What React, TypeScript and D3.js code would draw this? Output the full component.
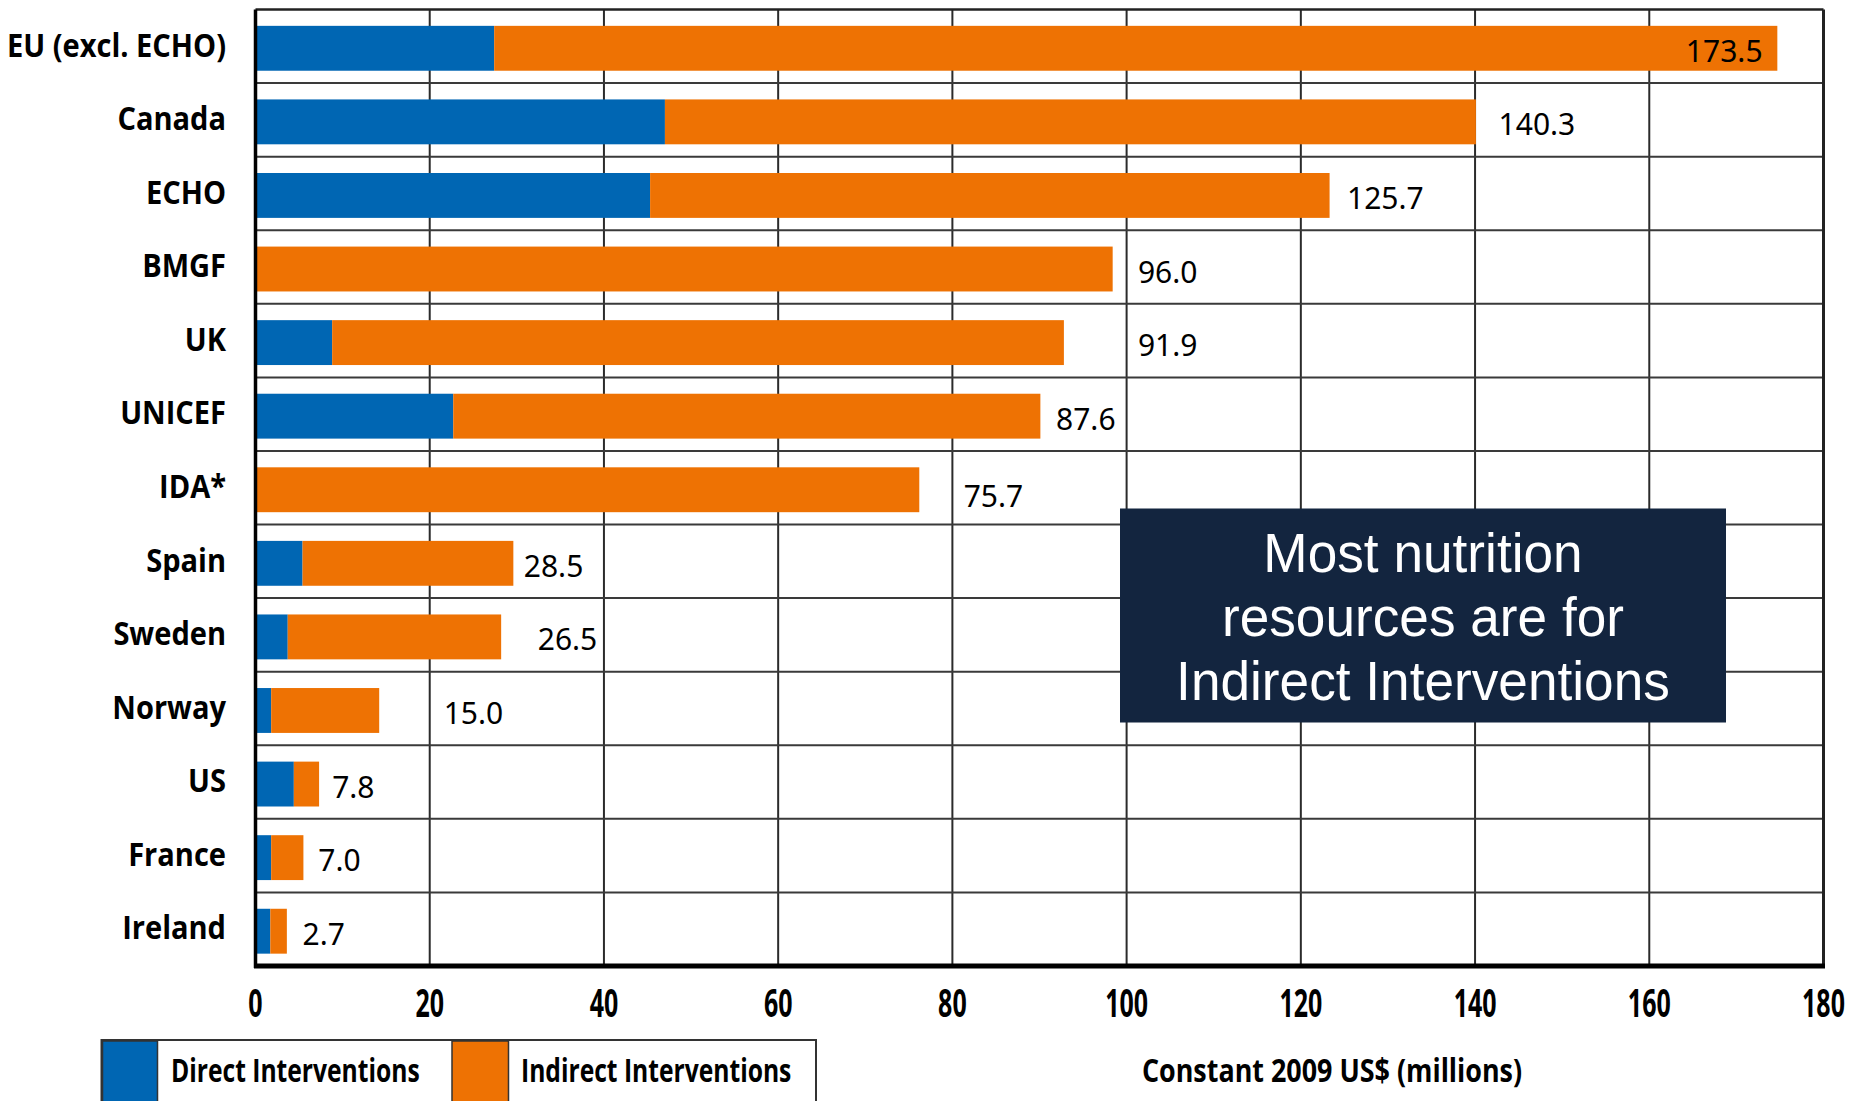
import React from "react";
import * as d3 from "d3";

const categories = [
  "EU (excl. ECHO)", "Canada", "ECHO", "BMGF", "UK", "UNICEF", "IDA*",
  "Spain", "Sweden", "Norway", "US", "France", "Ireland",
];
const direct = [27.4, 47.0, 45.3, 0, 8.8, 22.7, 0, 5.4, 3.7, 1.8, 4.4, 1.8, 1.7];
const indirect = [147.3, 93.1, 78.0, 98.4, 84.0, 67.4, 76.2, 24.2, 24.5, 12.4, 2.9, 3.7, 1.9];
const totalLabels = ["173.5", "140.3", "125.7", "96.0", "91.9", "87.6", "75.7", "28.5", "26.5", "15.0", "7.8", "7.0", "2.7"];
// where each total label starts, in axis units (as placed in the original)
const labelAt = [164.2, 142.7, 125.3, 101.3, 101.3, 91.9, 81.3, 30.8, 32.4, 21.6, 8.8, 7.2, 5.4];
const xTicks = [0, 20, 40, 60, 80, 100, 120, 140, 160, 180];
const seriesNames = ["Direct Interventions", "Indirect Interventions"];
const axisTitle = "Constant 2009 US$ (millions)";
const calloutLines = ["Most nutrition", "resources are for", "Indirect Interventions"];

const W = 1854;
const H = 1101;
const BLUE = "#0066b3";
const ORANGE = "#ee7203";
const NAVY = "#13253f";
const HEAVY = "'Open Sans', 'Noto Sans', sans-serif";
const BOOK = "'Noto Sans', 'Open Sans', sans-serif";
const ARIAL = "'Liberation Sans', Arial, sans-serif";

type TProps = {
  x: number;
  y: number;
  sx: number;
  anchor?: "start" | "middle" | "end";
  size: number;
  family: string;
  weight?: string;
  fill?: string;
  children: React.ReactNode;
};

function SText({ x, y, sx, anchor = "start", size, family, weight = "normal", fill = "#000", children }: TProps) {
  return (
    <text
      transform={`translate(${x},${y}) scale(${sx},1)`}
      x={0}
      y={0}
      dominantBaseline="central"
      textAnchor={anchor}
      fontFamily={family}
      fontWeight={weight}
      fontSize={size}
      fill={fill}
    >
      {children}
    </text>
  );
}

export default function App() {
  const left = 255.5;
  const right = 1823.5;
  const top = 9.5;
  const bottom = 966;

  const x = d3.scaleLinear().domain([0, 180]).range([left, right]);
  const y = d3
    .scaleBand<string>()
    .domain(categories)
    .range([top, bottom])
    .paddingInner(0.39)
    .paddingOuter(0.195);
  const step = y.step();
  const rowTop = (i: number) => top + i * step;

  return (
    <svg
      width={W}
      height={H}
      viewBox={`0 0 ${W} ${H}`}
      style={{ position: "absolute", left: 0, top: 0, background: "#fff" }}
    >
      <rect x={0} y={0} width={W} height={H} fill="#fff" />

      {/* vertical grid */}
      {xTicks.slice(1, -1).map((t) => (
        <line key={"v" + t} x1={x(t)} x2={x(t)} y1={top} y2={bottom} stroke="#2b2b2b" strokeWidth={2} />
      ))}
      {/* horizontal row separators */}
      {categories.slice(1).map((_, i) => (
        <line key={"h" + i} x1={left} x2={right} y1={rowTop(i + 1)} y2={rowTop(i + 1)} stroke="#3a3a3a" strokeWidth={2} />
      ))}

      {/* bars */}
      {categories.map((c, i) => {
        const yy = (y(c) as number) + 2;
        const bh = y.bandwidth();
        return (
          <g key={c}>
            {direct[i] > 0 && (
              <rect x={x(0)} y={yy} width={x(direct[i]) - x(0)} height={bh} fill={BLUE} />
            )}
            <rect
              x={x(direct[i])}
              y={yy}
              width={x(direct[i] + indirect[i]) - x(direct[i])}
              height={bh}
              fill={ORANGE}
            />
          </g>
        );
      })}

      {/* frame */}
      <line x1={left} x2={right} y1={top} y2={top} stroke="#222" strokeWidth={2.5} />
      <line x1={right} x2={right} y1={top} y2={bottom} stroke="#222" strokeWidth={3} />
      <line x1={left} x2={left} y1={top} y2={bottom + 2} stroke="#000" strokeWidth={3.5} />
      <line x1={left - 1.5} x2={right + 1.5} y1={bottom} y2={bottom} stroke="#000" strokeWidth={5} />

      {/* total labels */}
      {categories.map((c, i) => (
        <text
          key={"l" + c}
          x={x(labelAt[i])}
          y={rowTop(i) + step / 2 + (c === "IDA*" ? 8 : 4)}
          dominantBaseline="central"
          fontFamily={BOOK}
          fontSize={30}
          fill="#000"
        >
          {totalLabels[i]}
        </text>
      ))}

      {/* category labels */}
      {categories.map((c, i) => (
        <SText key={"c" + c} x={226} y={rowTop(i) + step / 2 - 2.5} sx={0.88} anchor="end" size={33} family={HEAVY} weight="bold">
          {c}
        </SText>
      ))}

      {/* x tick labels */}
      {xTicks.map((t) => (
        <SText key={"t" + t} x={x(t)} y={1002} sx={0.64} anchor="middle" size={39} family={HEAVY} weight="bold">
          {t}
        </SText>
      ))}

      {/* axis title */}
      <SText x={1332} y={1069} sx={0.815} anchor="middle" size={33} family={HEAVY} weight="bold">
        {axisTitle}
      </SText>

      {/* legend */}
      <g>
        <rect x={101.5} y={1040} width={714.5} height={70} fill="#fff" stroke="#333" strokeWidth={2} />
        <rect x={102.5} y={1041} width={55} height={68} fill={BLUE} stroke="#333" strokeWidth={1.5} />
        <rect x={452} y={1041} width={56.5} height={68} fill={ORANGE} stroke="#333" strokeWidth={1.5} />
        <SText x={171} y={1069} sx={0.77} size={32} family={HEAVY} weight="bold">
          {seriesNames[0]}
        </SText>
        <SText x={521} y={1069} sx={0.77} size={32} family={HEAVY} weight="bold">
          {seriesNames[1]}
        </SText>
      </g>

      {/* callout */}
      <g>
        <rect x={1120} y={508.5} width={606} height={214} fill={NAVY} />
        {calloutLines.map((t, i) => (
          <SText key={"co" + i} x={1423} y={553 + i * 64} sx={0.95} anchor="middle" size={56} family={ARIAL} fill="#fff">
            {t}
          </SText>
        ))}
      </g>
    </svg>
  );
}
